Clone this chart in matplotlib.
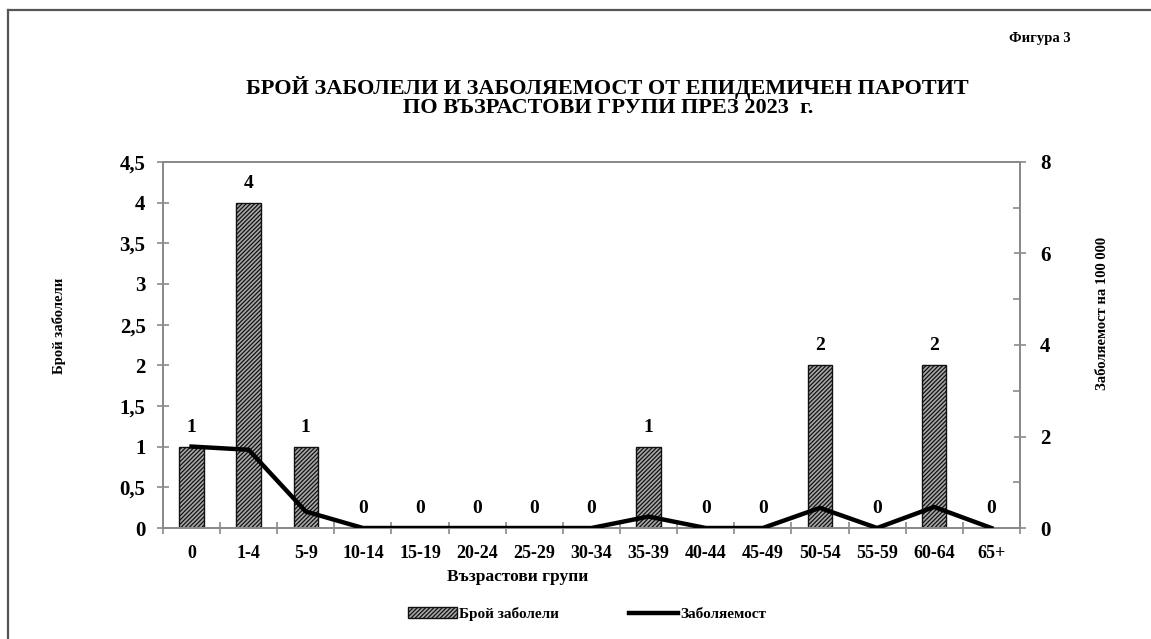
import matplotlib
matplotlib.use("Agg")
import matplotlib.pyplot as plt
from matplotlib.lines import Line2D
from matplotlib.patches import Patch
import numpy as np

# data
groups = ["0", "1-4", "5-9", "10-14", "15-19", "20-24", "25-29", "30-34",
          "35-39", "40-44", "45-49", "50-54", "55-59", "60-64", "65+"]
cases = [1, 4, 1, 0, 0, 0, 0, 0, 1, 0, 0, 2, 0, 2, 0]
incidence = [1.78, 1.71, 0.36, 0, 0, 0, 0, 0, 0.25, 0, 0, 0.44, 0, 0.46, 0]

SERIF = ["Liberation Serif", "DejaVu Serif"]
plt.rcParams["font.family"] = SERIF
plt.rcParams["hatch.color"] = "#1a1a1a"
plt.rcParams["hatch.linewidth"] = 0.9
AX_GRAY = "#8a8a8a"
BAR_FACE = "#a8a8a8"
HATCH = "////////"


def main():
    fig = plt.figure(figsize=(11.51, 6.39), dpi=100, facecolor="white")
    ax = fig.add_axes([0.1416, 0.1737, 0.7445, 0.5728])
    ax2 = ax.twinx()

    x = np.arange(len(groups))
    ax.bar(x, cases, width=0.43, color=BAR_FACE, edgecolor="#111111",
           linewidth=1.0, hatch=HATCH, zorder=2)
    for xi, v in zip(x, cases):
        ax.annotate(str(v), (xi, v), xytext=(0, 14), textcoords="offset points",
                    ha="center", va="center", fontsize=14, fontweight="bold")

    ax2.plot(x, incidence, color="black", linewidth=3.2, solid_joinstyle="miter",
             zorder=3)

    ax.set_xlim(-0.5, len(groups) - 0.5)
    ax.set_ylim(0, 4.5)
    ax2.set_ylim(0, 8)

    ax.set_yticks(np.arange(0, 4.51, 0.5))
    ax.set_yticklabels([f"{v:g}".replace(".", ",") for v in np.arange(0, 4.51, 0.5)])
    ax2.set_yticks([0, 2, 4, 6, 8])
    ax2.set_yticks([1, 3, 5, 7], minor=True)

    ax.set_xticks(x)
    ax.set_xticklabels(groups)
    ax.set_xticks(np.arange(-0.5, len(groups), 1), minor=True)
    ax.tick_params(axis="x", which="major", length=0, pad=12)
    ax.tick_params(axis="x", which="minor", direction="inout", length=8,
                   color=AX_GRAY, width=1.2)
    ax.tick_params(axis="y", direction="inout", length=9, color=AX_GRAY,
                   width=1.2, pad=8)
    ax2.tick_params(axis="y", which="major", direction="inout", length=9,
                    color=AX_GRAY, width=1.2, pad=10)
    ax2.tick_params(axis="y", which="minor", direction="in", length=5,
                    color=AX_GRAY, width=1.2)

    for a in (ax, ax2):
        for s in a.spines.values():
            s.set_color(AX_GRAY)
            s.set_linewidth(1.4)
        for lab in a.get_xticklabels() + a.get_yticklabels():
            lab.set_fontweight("bold")
            lab.set_fontsize(13)
    for lab in ax.get_yticklabels() + ax2.get_yticklabels():
        lab.set_fontsize(15)

    fig.text(0.051, 0.49, "Брой заболели", rotation=90, ha="center",
             va="center", fontsize=10.5, fontweight="bold")
    fig.text(0.958, 0.51, "Заболяемост на 100 000", rotation=90, ha="center",
             va="center", fontsize=10.5, fontweight="bold")
    fig.text(0.45, 0.097, "Възрастови групи", ha="center", va="center",
             fontsize=12.5, fontweight="bold")

    fig.text(0.528, 0.848,
             "БРОЙ ЗАБОЛЕЛИ И ЗАБОЛЯЕМОСТ ОТ ЕПИДЕМИЧЕН ПАРОТИТ\n"
             "ПО ВЪЗРАСТОВИ ГРУПИ ПРЕЗ 2023  г.",
             ha="center", va="center", fontsize=16, fontweight="bold",
             linespacing=0.95, multialignment="center")
    fig.text(0.93, 0.94, "Фигура 3", ha="right", va="center",
             fontsize=10.5, fontweight="bold")

    handles = [Patch(facecolor=BAR_FACE, edgecolor="#111111", hatch=HATCH),
               Line2D([0], [0], color="black", linewidth=3.2)]
    fig.legend(handles, ["Брой заболели", "Заболяемост"], loc="center",
               bbox_to_anchor=(0.51, 0.039), ncol=2, frameon=False,
               prop={"family": SERIF, "weight": "bold", "size": 11},
               handlelength=3.2, handletextpad=0.15, columnspacing=4.6)

    # page frame: top and left border only
    fig.add_artist(Line2D([0.007, 1.0], [0.984, 0.984], color="#555555",
                          linewidth=1.6, transform=fig.transFigure))
    fig.add_artist(Line2D([0.007, 0.007], [0.0, 0.984], color="#555555",
                          linewidth=1.6, transform=fig.transFigure))

    fig.savefig("out.png", dpi=100, facecolor="white")
    plt.close(fig)


if __name__ == "__main__":
    main()
